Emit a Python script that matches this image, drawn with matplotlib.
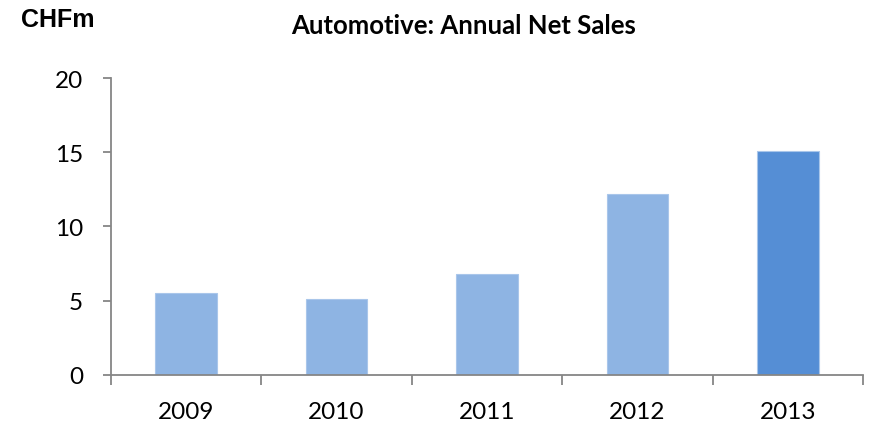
import matplotlib
matplotlib.use("Agg")
import matplotlib.pyplot as plt
from matplotlib.ticker import FixedLocator

years = ["2009", "2010", "2011", "2012", "2013"]
net_sales = [5.5, 5.1, 6.8, 12.2, 15.1]
bar_colors = ["#8EB4E3", "#8EB4E3", "#8EB4E3", "#8EB4E3", "#558ED5"]
y_ticks = [0, 5, 10, 15, 20]

fig = plt.figure(figsize=(8.69, 4.27), dpi=100)
ax = fig.add_axes([111 / 869, 51.3 / 427, 752 / 869, 296.7 / 427])

x = list(range(len(years)))
ax.bar(x, net_sales, width=0.41, color=bar_colors, edgecolor="#A9C6EA",
       linewidth=0.8, zorder=2)

ax.set_xlim(-0.5, len(years) - 0.5)
ax.set_ylim(0, 20)
ax.set_yticks(y_ticks)
ax.set_xticks(x)
ax.set_xticklabels(years)
ax.xaxis.set_minor_locator(FixedLocator([i - 0.5 for i in range(len(years) + 1)]))

axis_grey = "#868686"
for side in ("top", "right"):
    ax.spines[side].set_visible(False)
for side in ("left", "bottom"):
    ax.spines[side].set_color(axis_grey)
    ax.spines[side].set_linewidth(1.3)

ax.tick_params(axis="x", which="major", length=0, pad=19, labelsize=17.5)
ax.tick_params(axis="x", which="minor", length=7.5, width=1.3, color=axis_grey)
ax.tick_params(axis="y", length=6, width=1.3, color=axis_grey, pad=14,
               labelsize=17.5)
for lbl in ax.get_xticklabels() + ax.get_yticklabels():
    lbl.set_fontfamily("Lato")

fig.text(21 / 869, 1 - 20 / 427, "CHFm", fontsize=18, fontweight="bold",
         family="Liberation Sans", ha="left", va="center")
fig.text(464 / 869, 1 - 26 / 427, "Automotive: Annual Net Sales",
         fontsize=18.5, fontweight="bold", family="Lato",
         ha="center", va="center")

fig.savefig("out.png", dpi=100)
